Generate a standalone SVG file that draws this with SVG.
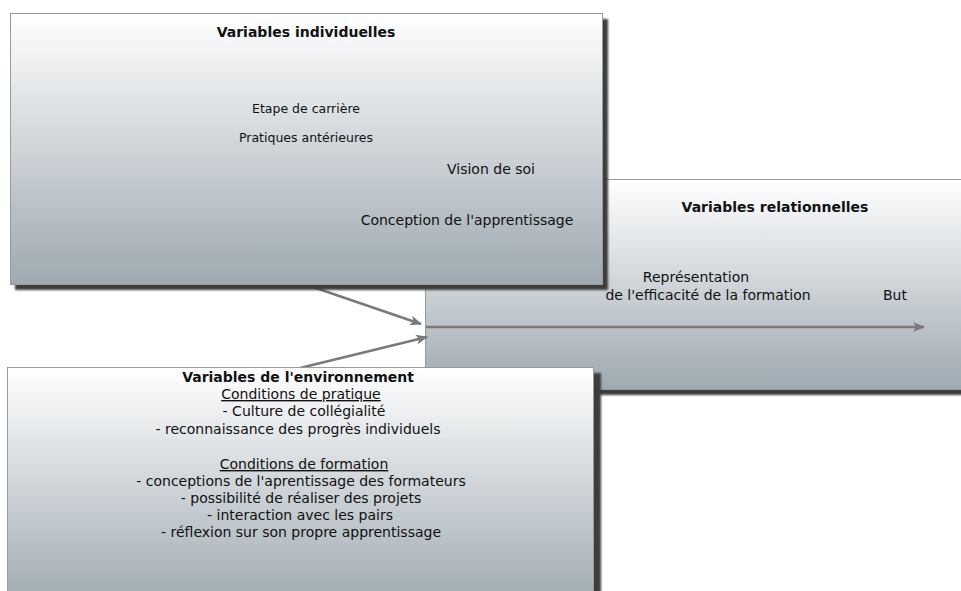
<svg xmlns="http://www.w3.org/2000/svg" width="961" height="591" viewBox="0 0 961 591">
<defs>
  <linearGradient id="gTop" x1="0" y1="0" x2="0" y2="1">
    <stop offset="0" stop-color="#ffffff"/>
    <stop offset="1" stop-color="#9ea9b1"/>
  </linearGradient>
  <filter id="soft" x="-5%" y="-5%" width="110%" height="110%">
    <feGaussianBlur stdDeviation="1"/>
  </filter>
  <marker id="ah" markerWidth="12" markerHeight="10" refX="11" refY="5" orient="auto" markerUnits="userSpaceOnUse">
    <path d="M0,0 L12,5 L0,10 L3,5 Z" fill="#7a7a7a"/>
  </marker>
  <style>
    .box{fill:url(#gTop);stroke:#9a9a9a;stroke-width:1}
    .shadow{fill:#3c3c3c;filter:url(#soft)}
    .t{font-family:"DejaVu Sans","Liberation Sans",sans-serif;fill:#111;text-anchor:middle}
    .b{font-weight:bold;font-size:14px}
    .s12{font-size:12.5px}
    .s14{font-size:14px}
    .s13{font-size:14px}
    .c{stroke:#7a7a7a;stroke-width:2.5;fill:none;marker-end:url(#ah)}
  </style>
</defs>
<rect width="961" height="591" fill="#ffffff"/>

<g id="node-relationnelles">
  <rect class="shadow" x="430" y="184" width="540" height="211"/>
  <rect class="box" x="425.5" y="179.5" width="545" height="210"/>
  <text class="t b" x="775" y="212">Variables relationnelles</text>
  <text class="t s14" x="696" y="282">Représentation</text>
  <text class="t s14" x="708" y="300">de l'efficacité de la formation</text>
  <text class="t s14" x="895" y="300">But</text>
</g>

<g id="connectors">
  <line class="c" x1="307" y1="285" x2="421" y2="324"/>
  <line class="c" x1="300" y1="368" x2="427" y2="337"/>
  <line class="c" x1="426" y1="327" x2="924" y2="327"/>
</g>

<g id="node-individuelles">
  <rect class="shadow" x="15" y="19" width="593" height="271"/>
  <rect class="box" x="10.5" y="13.5" width="592" height="271"/>
  <text class="t b" x="306" y="37">Variables individuelles</text>
  <text class="t s12" x="306" y="113">Etape de carrière</text>
  <text class="t s12" x="306" y="142">Pratiques antérieures</text>
  <text class="t s14" x="491" y="174">Vision de soi</text>
  <text class="t s14" x="467" y="225">Conception de l'apprentissage</text>
</g>

<g id="node-environnement">
  <rect class="shadow" x="12" y="373" width="589" height="240"/>
  <rect class="box" x="7.5" y="367.5" width="586" height="240"/>
  <text class="t b" x="298" y="382">Variables de l'environnement</text>
  <text class="t s13" x="301" y="399" text-decoration="underline">Conditions de pratique</text>
  <text class="t s13" x="304" y="416">- Culture de collégialité</text>
  <text class="t s13" x="298" y="434">- reconnaissance des progrès individuels</text>
  <text class="t s13" x="304" y="469" text-decoration="underline">Conditions de formation</text>
  <text class="t s13" x="301" y="486">- conceptions de l'aprentissage des formateurs</text>
  <text class="t s13" x="301" y="503">- possibilité de réaliser des projets</text>
  <text class="t s13" x="300" y="520">- interaction avec les pairs</text>
  <text class="t s13" x="301" y="537">- réflexion sur son propre apprentissage</text>
</g>
</svg>
